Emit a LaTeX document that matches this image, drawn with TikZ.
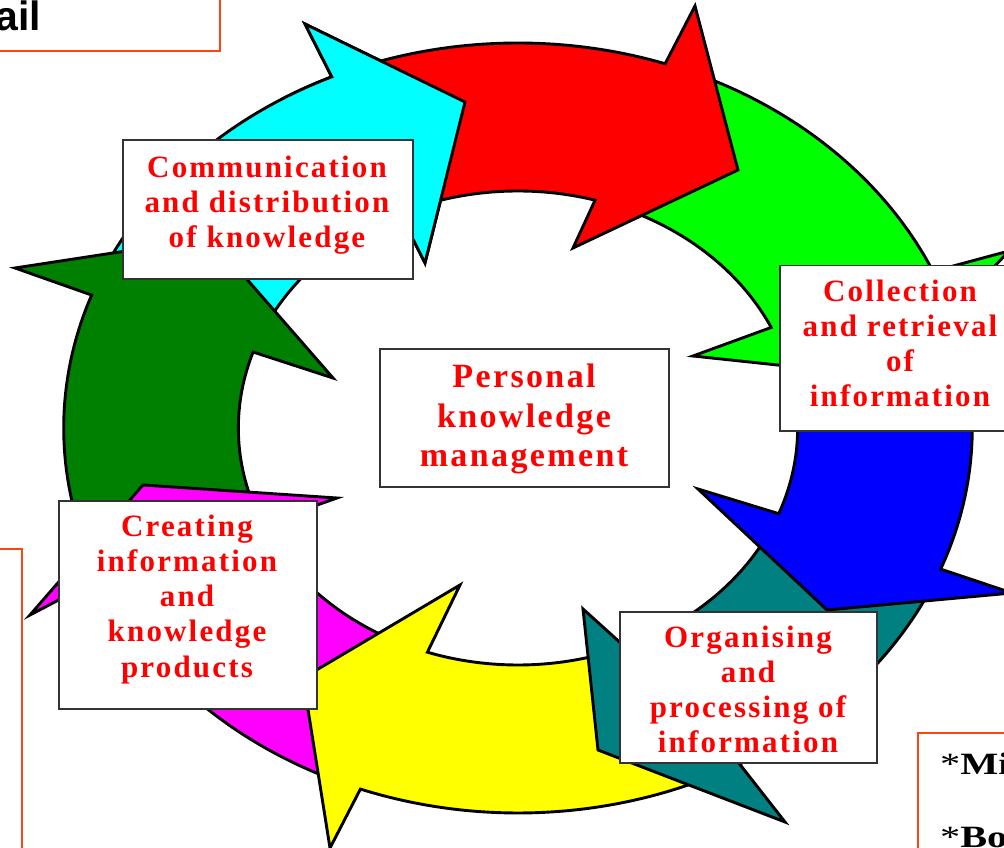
\documentclass[tikz,border=0pt]{standalone}
\usepackage{fontspec}
\usepackage{graphicx}
\setmainfont{Liberation Serif}
\newfontfamily\lblfont{Liberation Serif}[LetterSpace=7]
\newfontfamily\sansfont{Liberation Sans}
\definecolor{orng}{RGB}{255,68,17}
\definecolor{cyanC}{RGB}{0,255,255}
\definecolor{dgreenC}{RGB}{0,128,0}
\definecolor{magC}{RGB}{255,0,255}
\definecolor{yelC}{RGB}{255,255,0}
\definecolor{tealC}{RGB}{0,128,128}
\definecolor{blueC}{RGB}{0,0,255}
\definecolor{greenC}{RGB}{0,255,0}
\definecolor{redC}{RGB}{255,0,0}
\newcommand\PP[2]{({518+1.18*(#2)*cos(#1)},{420+(#2)*sin(#1)})}
\newcommand\ringarrow[7]{%
  \path[ringarr, fill=#1] \PP{#2}{385}
    arc[start angle=#2, end angle=#3, x radius=454.3, y radius=385]
    -- (#4) -- (#5) -- (#6) -- \PP{#7}{237}
    arc[start angle=#7, end angle=#2, x radius=279.66, y radius=237] -- cycle;}
\tikzset{
  ringarr/.style={draw=black, line width=2.9pt, line join=miter, miter limit=10},
  box/.style={draw=black!80, line width=1.5pt, fill=white, rectangle, inner sep=0pt},
  lbl/.style={text=red, font=\lblfont\fontsize{31}{35.1}\selectfont\bfseries, align=center, inner sep=0pt},
  biglbl/.style={text=red, font=\lblfont\fontsize{34}{39.7}\selectfont\bfseries, align=center, inner sep=0pt},
  obox/.style={draw=orng, line width=1.7pt},
  cornertxt/.style={font=\rmfamily\fontsize{31}{36}\selectfont, anchor=base west, inner sep=0pt}
}
\begin{document}
\begin{tikzpicture}[x=1pt,y=1pt]
\useasboundingbox (0,0) rectangle (1004,848);
\clip (0,0) rectangle (1004,848);
\fill[white] (0,0) rectangle (1004,848);

% partial framing boxes
\draw[obox] (-5,853) rectangle (220,797);
\node[font=\sansfont\bfseries\fontsize{41}{48}\selectfont, anchor=base east, inner sep=0pt] (ail) at (41,817.3) {ail};
\draw[obox] (-5,299) rectangle (22,-12);

% ring of arrows
\ringarrow{cyanC}{155}{114.2}{305,824}{465,746}{425,585}{115}
\ringarrow{dgreenC}{200}{159.8}{15,580}{211,610}{333,470}{161.3}
\ringarrow{magC}{246}{203}{30,233}{143,363}{337,350}{204}
\ringarrow{yelC}{295}{249.7}{330,0}{303,170}{460,263}{251.1}
\ringarrow{tealC}{-24}{-60.8}{785,26}{598,98}{583,239}{-67.5}
\ringarrow{blueC}{15}{-21.5}{1012,255}{827,238}{698,359}{-21.2}
\ringarrow{greenC}{67}{24}{1009,597}{890,471}{693,492}{25.1}
\ringarrow{redC}{112}{71.1}{695,842}{738,678}{573,600}{74}
\begin{scope}
  \clip (280,578) rectangle (520,860);
  \ringarrow{cyanC}{155}{114.2}{305,824}{465,746}{425,585}{115}
\end{scope}

% labelled boxes
\node[box, minimum width=290pt, minimum height=139pt] (bComm) at (268,638.5) {};
\node[lbl] (tComm) at (267,642.5) {Communication\\and distribution\\of knowledge};

\node[box, minimum width=289pt, minimum height=138pt] (bPers) at (524.5,430) {};
\node[biglbl] (tPers) at (524,429) {Personal\\knowledge\\management};

\node[box, minimum width=232pt, minimum height=165.3pt] (bColl) at (896,499.6) {};
\node[lbl] (tColl) at (900,504.7) {Collection\\and retrieval\\of\\information};

\node[box, minimum width=258pt, minimum height=208pt] (bCreat) at (188,243) {};
\node[lbl] (tCreat) at (187,248.6) {Creating\\information\\and\\knowledge\\products};

\node[box, minimum width=257pt, minimum height=151pt] (bOrg) at (748.5,160.5) {};
\node[lbl] (tOrg) at (748,158.7) {Organising\\and\\processing of\\information};

% bottom-right partial box
\draw[obox, fill=white] (918,115) rectangle (1012,-12);
\node[cornertxt] (mi) at (940,73) {\scalebox{1.3}[1]{*\textbf{Mi}}};
\node[cornertxt] (bo) at (940,0) {\scalebox{1.3}[1]{*\textbf{Bo}}};
\end{tikzpicture}
\end{document}
